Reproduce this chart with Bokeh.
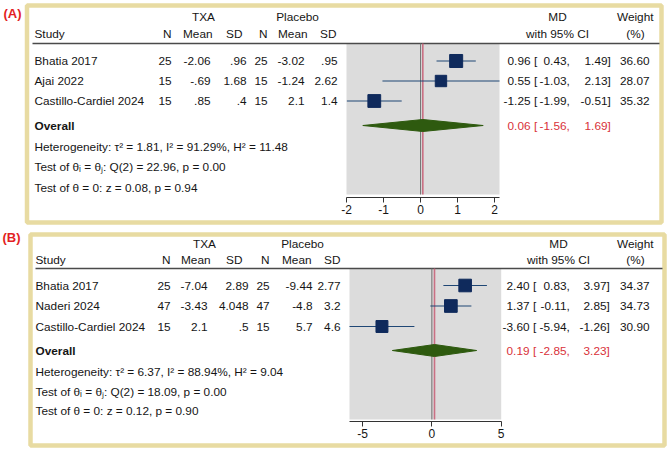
import numpy as np
from bokeh.plotting import figure
from bokeh.models import Range1d, LinearAxis, FixedTicker
from bokeh.core.properties import value
from bokeh.embed import file_html
from bokeh.resources import INLINE

# ---------------- data : panel A ----------------
a_label = "(A)"
a_studies = ["Bhatia 2017", "Ajai 2022", "Castillo-Cardiel 2024"]
a_txa_n = [25, 15, 15]
a_txa_mean = [-2.06, -0.69, 0.85]
a_txa_sd = [0.96, 1.68, 0.4]
a_pl_n = [25, 15, 15]
a_pl_mean = [-3.02, -1.24, 2.1]
a_pl_sd = [0.95, 2.62, 1.4]
a_md = [0.96, 0.55, -1.25]
a_lo = [0.43, -1.03, -1.99]
a_hi = [1.49, 2.13, -0.51]
a_weight = [36.60, 28.07, 35.32]
a_overall = [0.06, -1.56, 1.69]
a_stats = ["Heterogeneity: \u03c4\u00b2 = 1.81, I\u00b2 = 91.29%, H\u00b2 = 11.48",
           "Test of \u03b8\u1d62 = \u03b8\u2c7c: Q(2) = 22.96, p = 0.00",
           "Test of \u03b8 = 0: z = 0.08, p = 0.94"]
a_ticks = [-2, -1, 0, 1, 2]

# ---------------- data : panel B ----------------
b_label = "(B)"
b_studies = ["Bhatia 2017", "Naderi 2024", "Castillo-Cardiel 2024"]
b_txa_n = [25, 47, 15]
b_txa_mean = [-7.04, -3.43, 2.1]
b_txa_sd = [2.89, 4.048, 0.5]
b_pl_n = [25, 47, 15]
b_pl_mean = [-9.44, -4.8, 5.7]
b_pl_sd = [2.77, 3.2, 4.6]
b_md = [2.40, 1.37, -3.60]
b_lo = [0.83, -0.11, -5.94]
b_hi = [3.97, 2.85, -1.26]
b_weight = [34.37, 34.73, 30.90]
b_overall = [0.19, -2.85, 3.23]
b_stats = ["Heterogeneity: \u03c4\u00b2 = 6.37, I\u00b2 = 88.94%, H\u00b2 = 9.04",
           "Test of \u03b8\u1d62 = \u03b8\u2c7c: Q(2) = 18.09, p = 0.00",
           "Test of \u03b8 = 0: z = 0.12, p = 0.90"]
b_ticks = [-5, 0, 5]

header_top = ["TXA", "Placebo"]
header_cols = ["N", "Mean", "SD", "N", "Mean", "SD"]

# ---------------- styles ----------------
W, H = 669, 450
FONT = "Liberation Sans"
FS = "11.8px"
TEXT = "#151515"
RED = "#d9323a"
LABEL_RED = "#e31e24"
GOLD = "#e8dba2"
GREY_BG = "#dcdcdc"
NAVY = "#0f2a5c"
CI_COL = "#1f4775"
DIAMOND = "#2e5a0f"
REFLINE = "#c8647a"

# layout (pixel-like layout units, y downward)
layouts = {
    "A": dict(box=(26.5, 5, 661, 222), lab=(3, 12.5),
              h1=16, h2=33, hline=(32, 659, 43),
              rows=(60.5, 20.0), overall=125, stats=(146, 166.5, 187),
              hdr_r=[171, 212, 242, 267, 307, 336], val_r=[171, 210, 246, 267, 304, 337],
              grp_c=[203, 297], study_x=34,
              md_r=530, lb_x=533.5, lo_r=566, hi_r=607, w_r=649,
              md_c=557, wt_r=653, pct_c=635,
              px=(346, 499), grey=(43, 194), axis_y=197),
    "B": dict(box=(30, 234, 664, 445), lab=(2, 237),
              h1=243, h2=259, hline=(35, 662, 268),
              rows=(285, 20.5), overall=350, stats=(371, 391, 410.5),
              hdr_r=[170, 210, 242, 269, 311, 340], val_r=[170, 207, 248, 269, 312, 340],
              grp_c=[204, 302], study_x=35,
              md_r=529, lb_x=532.5, lo_r=566, hi_r=606, w_r=649,
              md_c=558, wt_r=653, pct_c=635,
              px=(349, 500.7), grey=(268, 419), axis_y=421),
}


def stata(v):
    s = f"{v:g}"
    if s.startswith("0."):
        s = s[1:]
    elif s.startswith("-0."):
        s = "-" + s[2:]
    return s


p = figure(width=W, height=H, x_range=Range1d(0, W), y_range=Range1d(H, 0),
           x_axis_type=None, y_axis_type=None, output_backend="svg",
           toolbar_location=None, min_border=0)
p.outline_line_color = None
p.xgrid.visible = False
p.ygrid.visible = False
p.background_fill_color = "white"
p.border_fill_color = "white"


def put(xs, ys, texts, align="left", color=TEXT, size=FS, style="normal"):
    p.text(x=list(xs), y=list(ys), text=list(texts), text_align=align,
           text_baseline="middle", text_color=color, text_font=value(FONT),
           text_font_size=value(size), text_font_style=style)


def ci_text(L, ys, m, l, h, color):
    k = len(ys)
    put([L["md_r"]] * k, ys, [f"{v:.2f}" for v in m], align="right", color=color)
    put([L["lb_x"]] * k, ys, ["["] * k, color=color)
    put([L["lo_r"]] * k, ys, [f"{v:.2f}" for v in l], align="right", color=color)
    put([L["lo_r"]] * k, ys, [","] * k, color=color)
    put([L["hi_r"]] * k, ys, [f"{v:.2f}" for v in h], align="right", color=color)
    put([L["hi_r"]] * k, ys, ["]"] * k, color=color)


panels = [
    ("A", a_label, a_studies, a_txa_n, a_txa_mean, a_txa_sd, a_pl_n, a_pl_mean, a_pl_sd,
     a_md, a_lo, a_hi, a_weight, a_overall, a_stats, a_ticks),
    ("B", b_label, b_studies, b_txa_n, b_txa_mean, b_txa_sd, b_pl_n, b_pl_mean, b_pl_sd,
     b_md, b_lo, b_hi, b_weight, b_overall, b_stats, b_ticks),
]

for (key, label, studies, tn, tm, ts, pn, pm, ps, md, lo, hi, wt, ov, stats, ticks) in panels:
    L = layouts[key]
    n = len(studies)
    ys = [L["rows"][0] + i * L["rows"][1] for i in range(n)]

    # data range of the forest region
    dmin = min(min(lo), min(ticks))
    dmax = max(max(hi), max(ticks))
    x0, x1 = L["px"]
    k = (x1 - x0) / (dmax - dmin)
    rname = "md" + key
    p.extra_x_ranges[rname] = Range1d(dmin - x0 / k, dmin + (W - x0) / k)

    # box
    bx = L["box"]
    p.quad(left=[bx[0]], right=[bx[2]], top=[bx[1]], bottom=[bx[3]],
           fill_color=None, line_color=GOLD, line_width=4.5)
    put([L["lab"][0]], [L["lab"][1]], [label], color=LABEL_RED, size="13px", style="bold")

    # grey plot region
    g0, g1 = L["grey"]
    p.quad(left=[dmin], right=[dmax], top=[g0], bottom=[g1], fill_color=GREY_BG,
           line_color=None, x_range_name=rname)

    # header line
    hx0, hx1, hy = L["hline"]
    p.segment(x0=[hx0], x1=[hx1], y0=[hy], y1=[hy], line_color="#4a4a4a", line_width=1.6)

    # headers
    put(L["grp_c"], [L["h1"]] * 2, header_top, align="center")
    put([L["study_x"]], [L["h2"]], ["Study"])
    put(L["hdr_r"], [L["h2"]] * 6, header_cols, align="right")
    put([L["md_c"], L["md_c"]], [L["h1"], L["h2"]], ["MD", "with 95% CI"], align="center")
    put([L["wt_r"]], [L["h1"]], ["Weight"], align="right")
    put([L["pct_c"]], [L["h2"]], ["(%)"], align="center")

    # table body
    put([L["study_x"]] * n, ys, studies)
    cols = [tn, tm, ts, pn, pm, ps]
    for c, vals in enumerate(cols):
        put([L["val_r"][c]] * n, ys, [stata(v) for v in vals], align="right")

    # CI text + weights
    ci_text(L, ys, md, lo, hi, TEXT)
    put([L["w_r"]] * n, ys, [f"{v:.2f}" for v in wt], align="right")

    # overall
    oy = L["overall"]
    put([L["study_x"]], [oy], ["Overall"], style="bold")
    ci_text(L, [oy], [ov[0]], [ov[1]], [ov[2]], RED)
    put([L["study_x"]] * 3, list(L["stats"]), stats)

    # reference lines
    p.segment(x0=[0], x1=[0], y0=[g0], y1=[g1], line_color="#6e6e6e", line_width=1,
              x_range_name=rname)
    p.segment(x0=[ov[0]], x1=[ov[0]], y0=[g0], y1=[g1], line_color=REFLINE,
              line_width=1.6, line_alpha=0.9, x_range_name=rname)

    # CIs and squares
    p.segment(x0=lo, x1=hi, y0=ys, y1=ys, line_color=CI_COL, line_width=1.1,
              x_range_name=rname)
    sizes = [2.15 * np.sqrt(w) for w in wt]
    p.scatter(x=md, y=ys, size=sizes, marker="square", fill_color=NAVY,
              line_color=NAVY, x_range_name=rname)

    # diamond
    p.patch(x=[ov[1], ov[0], ov[2], ov[0]], y=[oy, oy - 6, oy, oy + 6],
            fill_color=DIAMOND, line_color=DIAMOND, x_range_name=rname)

    # axis
    ax = LinearAxis(x_range_name=rname, fixed_location=L["axis_y"], bounds=(dmin, dmax),
                    ticker=FixedTicker(ticks=ticks))
    ax.major_label_overrides = {t: str(t) for t in ticks}
    ax.major_tick_out = 5
    ax.major_tick_in = 0
    ax.minor_tick_line_color = None
    ax.axis_line_color = "#333333"
    ax.major_tick_line_color = "#333333"
    ax.major_label_text_font = FONT
    ax.major_label_text_font_size = "12px"
    ax.major_label_text_color = TEXT
    ax.major_label_standoff = 2
    p.add_layout(ax, "below")

open("out.html", "w").write(file_html(p, INLINE))
